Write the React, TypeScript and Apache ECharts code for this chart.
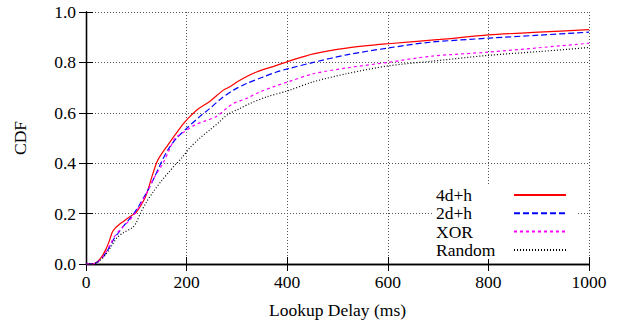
import React, { useEffect, useRef } from "react";
import * as echarts from "echarts";

const seriesNames = ["4d+h", "2d+h", "XOR", "Random"];

const red4dh: [number, number][] = [
  [0, 0], [10, 0], [20, 0.005], [30, 0.025], [40, 0.06], [47, 0.095], [52, 0.125], [58, 0.142],
  [65, 0.155], [75, 0.17], [85, 0.185], [95, 0.197], [100, 0.205], [110, 0.235], [120, 0.275],
  [130, 0.34], [140, 0.4], [147, 0.427], [163, 0.473], [177, 0.512], [193, 0.555], [203, 0.578],
  [223, 0.615], [246, 0.645], [273, 0.69], [286, 0.703], [306, 0.729], [339, 0.762], [379, 0.788],
  [402, 0.804], [452, 0.834], [518, 0.857], [600, 0.874], [704, 0.891], [800, 0.909], [900, 0.92],
  [1000, 0.93],
];

const blue2dh: [number, number][] = [
  [0, 0], [10, 0], [20, 0.004], [30, 0.02], [40, 0.045], [50, 0.08], [57, 0.105], [65, 0.125],
  [72, 0.144], [85, 0.175], [95, 0.2], [105, 0.23], [115, 0.265], [125, 0.3], [135, 0.34],
  [150, 0.405], [165, 0.46], [180, 0.499], [200, 0.538], [226, 0.585], [246, 0.617], [269, 0.657],
  [293, 0.69], [319, 0.716], [352, 0.742], [379, 0.762], [402, 0.775], [452, 0.8], [518, 0.83],
  [600, 0.857], [684, 0.88], [800, 0.896], [900, 0.908], [1000, 0.92],
];

const magentaXor: [number, number][] = [
  [0, 0], [10, 0], [20, 0.004], [30, 0.02], [40, 0.048], [50, 0.085], [57, 0.11], [65, 0.13],
  [75, 0.15], [85, 0.17], [95, 0.195], [105, 0.225], [115, 0.26], [125, 0.3], [135, 0.34],
  [153, 0.4], [165, 0.45], [177, 0.499], [196, 0.525], [216, 0.551], [236, 0.567], [259, 0.585],
  [279, 0.617], [293, 0.637], [319, 0.657], [346, 0.683], [372, 0.703], [402, 0.723], [452, 0.755],
  [518, 0.778], [600, 0.8], [684, 0.824], [800, 0.841], [900, 0.858], [1000, 0.876],
];

const blackRandom: [number, number][] = [
  [0, 0], [10, 0], [20, 0.004], [30, 0.018], [40, 0.04], [50, 0.07], [62, 0.105], [75, 0.125],
  [92, 0.144], [100, 0.165], [108, 0.2], [120, 0.245], [135, 0.29], [150, 0.33], [165, 0.365],
  [178, 0.395], [190, 0.42], [206, 0.46], [226, 0.499], [246, 0.532], [263, 0.56], [283, 0.595],
  [306, 0.617], [326, 0.637], [359, 0.663], [402, 0.688], [452, 0.723], [518, 0.755], [600, 0.786],
  [684, 0.804], [800, 0.828], [900, 0.843], [1000, 0.859],
];

const xMin = 0, xMax = 1000, xInterval = 200;
const yMin = 0, yMax = 1, yInterval = 0.2;

const FONT = "Liberation Serif";
const FS = 17.5;

export default function App() {
  const ref = useRef<HTMLDivElement>(null);
  useEffect(() => {
    if (!ref.current) return;
    const chart = echarts.init(ref.current, undefined, { renderer: "svg" });
    const axisLine = { show: true, lineStyle: { color: "#000", width: 1.3 } };
    const tick = { show: true, inside: true, length: 7, lineStyle: { color: "#000", width: 1 } };
    const split = { show: true, lineStyle: { color: "#555", type: [1, 2] as any, width: 1 } };
    const lab = { fontFamily: FONT, fontSize: FS, color: "#000" };
    const mk = (name: string, data: [number, number][], color: string, type: any, width: number) => ({
      name,
      type: "line",
      data,
      showSymbol: false,
      symbol: "none",
      smooth: 0.3,
      xAxisIndex: 0,
      yAxisIndex: 0,
      lineStyle: { color, type, width },
      itemStyle: { color },
      z: 3,
    });
    chart.setOption({
      animation: false,
      backgroundColor: "#fff",
      grid: { left: 86, right: 32, top: 12, bottom: 57.5, containLabel: false },
      xAxis: [
        {
          type: "value", min: xMin, max: xMax, interval: xInterval, position: "bottom",
          axisLine, axisTick: tick, splitLine: split,
          axisLabel: { ...lab, margin: 9, formatter: (v: number) => String(v) },
          name: "Lookup Delay (ms)", nameLocation: "middle", nameGap: 37,
          nameTextStyle: { fontFamily: FONT, fontSize: FS, color: "#000" },
        },
        {
          type: "value", min: xMin, max: xMax, interval: xInterval, position: "top",
          axisLine, axisTick: tick, splitLine: { show: false }, axisLabel: { show: false },
        },
      ],
      yAxis: [
        {
          type: "value", min: yMin, max: yMax, interval: yInterval, position: "left",
          axisLine, axisTick: tick, splitLine: split,
          axisLabel: { ...lab, margin: 10, formatter: (v: number) => v.toFixed(1) },
          name: "CDF", nameLocation: "middle", nameGap: 57, nameRotate: 90,
          nameTextStyle: { fontFamily: FONT, fontSize: FS, color: "#000" },
        },
        {
          type: "value", min: yMin, max: yMax, interval: yInterval, position: "right",
          axisLine, axisTick: tick, splitLine: { show: false }, axisLabel: { show: false },
        },
      ],
      legend: {
        orient: "vertical",
        left: 436,
        top: 186,
        padding: 0,
        itemGap: 0.3,
        itemWidth: 52,
        itemHeight: 12,
        align: "right",
        z: 6,
        data: seriesNames,
        itemStyle: { opacity: 0 },
        formatter: (n: string) => `{a|${n}}`,
        textStyle: {
          fontFamily: FONT, fontSize: FS, color: "#000",
          rich: { a: { fontFamily: FONT, fontSize: FS, color: "#000", width: 73, align: "left", lineHeight: 18 } },
        },
      },
      graphic: [
        { type: "rect", z: 1, shape: { x: 433, y: 185, width: 143, height: 74 }, style: { fill: "#fff" } },
      ],
      series: [
        mk(seriesNames[0], red4dh, "#ff0000", "solid", 1.2),
        mk(seriesNames[1], blue2dh, "#0000ff", [6, 3], 1.2),
        mk(seriesNames[2], magentaXor, "#ff00ff", [3, 3], 1.2),
        mk(seriesNames[3], blackRandom, "#000000", [1, 2], 1.2),
      ],
    });
    return () => chart.dispose();
  }, []);
  return <div ref={ref} style={{ position: "fixed", left: 0, top: 0, width: 621, height: 324 }} />;
}
